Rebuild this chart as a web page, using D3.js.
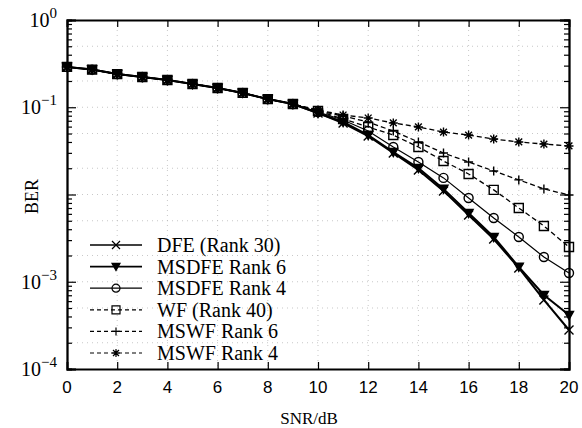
<!DOCTYPE html>
<html>
<head>
<meta charset="utf-8">
<script src="https://cdn.jsdelivr.net/npm/d3@7"></script>
<style>
  body { margin: 0; background: #fff; }
  .serif { font-family: "Liberation Serif", "Times New Roman", serif; }
  .sans { font-family: "Liberation Sans", Arial, sans-serif; }
</style>
</head>
<body>
<div id="chart"></div>
<script>
//=========Data=========//
var snr = [0, 1, 2, 3, 4, 5, 6, 7, 8, 9, 10, 11, 12, 13, 14, 15, 16, 17, 18, 19, 20];

var dfeRank30 = [0.29, 0.27, 0.24, 0.222, 0.205, 0.185, 0.166, 0.146, 0.124, 0.109,
  0.0859, 0.066, 0.0468, 0.0299, 0.0191, 0.011, 0.00582, 0.00309, 0.00144, 0.000618, 0.00028];
var msdfeRank6 = [0.29, 0.27, 0.24, 0.222, 0.205, 0.185, 0.166, 0.146, 0.124, 0.109,
  0.0859, 0.0677, 0.048, 0.0307, 0.0201, 0.0116, 0.00614, 0.00326, 0.00148, 0.000705, 0.000416];
var msdfeRank4 = [0.29, 0.27, 0.24, 0.222, 0.205, 0.185, 0.166, 0.146, 0.124, 0.109,
  0.0882, 0.0714, 0.0534, 0.035, 0.0236, 0.0155, 0.00912, 0.00538, 0.00326, 0.00192, 0.00126];
var wfRank40 = [0.29, 0.27, 0.24, 0.222, 0.205, 0.185, 0.166, 0.146, 0.124, 0.109,
  0.0906, 0.0733, 0.0594, 0.048, 0.035, 0.0242, 0.0172, 0.0113, 0.007, 0.00436, 0.0025];
var mswfRank6 = [0.29, 0.27, 0.24, 0.222, 0.205, 0.185, 0.166, 0.146, 0.124, 0.109,
  0.0906, 0.0794, 0.0677, 0.0534, 0.04, 0.0299, 0.0236, 0.0186, 0.0147, 0.0116, 0.00987];
var mswfRank4 = [0.29, 0.27, 0.24, 0.222, 0.205, 0.185, 0.166, 0.146, 0.124, 0.109,
  0.093, 0.0815, 0.0753, 0.066, 0.0594, 0.052, 0.048, 0.0433, 0.04, 0.0379, 0.036];

var seriesNames = ["DFE (Rank 30)", "MSDFE Rank 6", "MSDFE Rank 4", "WF (Rank 40)", "MSWF Rank 6", "MSWF Rank 4"];
var xTicks = [0, 2, 4, 6, 8, 10, 12, 14, 16, 18, 20];
var yDecades = [1e-4, 1e-3, 1e-2, 1e-1, 1];
// the 10^-2 label is hidden behind the BER title in the original
var yLabelled = [1e-4, 1e-3, 1e-1, 1];
var yExponents = ["\u22124", "\u22123", "\u22121", "0"];

//=========SVG area=========//
var svgWidth = 582;
var svgHeight = 428;
var margin = { top: 20, right: 13, bottom: 59, left: 67 };
var width = svgWidth - margin.left - margin.right;
var height = svgHeight - margin.top - margin.bottom;

var svg = d3.select("#chart").append("svg")
  .attr("width", svgWidth)
  .attr("height", svgHeight);

var chartGroup = svg.append("g")
  .attr("transform", `translate(${margin.left}, ${margin.top})`);

var x = d3.scaleLinear().domain([0, 20]).range([0, width]);
var y = d3.scaleLog().domain([1e-4, 1]).range([height, 0]);

// minor tick values for log axis
var yMinor = [];
[1e-4, 1e-3, 1e-2, 1e-1].forEach(function (d) {
  for (var k = 2; k <= 9; k++) yMinor.push(d * k);
});

//=========Grid (faint dotted)=========//
var grid = chartGroup.append("g").attr("stroke", "#b0b0b0").attr("stroke-width", 0.7)
  .attr("stroke-dasharray", "1,4");
grid.selectAll("line.gx").data(xTicks.slice(1, -1)).enter().append("line")
  .attr("x1", d => x(d)).attr("x2", d => x(d)).attr("y1", 0).attr("y2", height);
grid.selectAll("line.gy").data(yDecades.slice(1, -1).concat(yMinor.filter((d, i) => i % 8 === 0 || i % 8 === 3)))
  .enter().append("line")
  .attr("x1", 0).attr("x2", width).attr("y1", d => y(d)).attr("y2", d => y(d));

//=========Axes (ticks inward, boxed)=========//
chartGroup.append("g").attr("transform", `translate(0, ${height})`)
  .call(d3.axisBottom(x).tickValues(xTicks).tickSize(-7).tickFormat(""));
chartGroup.append("g")
  .call(d3.axisTop(x).tickValues(xTicks).tickSize(-7).tickFormat(""));
chartGroup.append("g")
  .call(d3.axisLeft(y).tickValues(yMinor).tickSize(-5).tickFormat(""));
chartGroup.append("g")
  .call(d3.axisLeft(y).tickValues(yDecades).tickSize(-9).tickFormat(""));
chartGroup.append("g").attr("transform", `translate(${width}, 0)`)
  .call(d3.axisRight(y).tickValues(yMinor).tickSize(-5).tickFormat(""));
chartGroup.append("g").attr("transform", `translate(${width}, 0)`)
  .call(d3.axisRight(y).tickValues(yDecades).tickSize(-9).tickFormat(""));
chartGroup.selectAll(".domain").attr("stroke-width", 1.8).attr("stroke", "#000");
chartGroup.selectAll(".tick line").attr("stroke", "#000").attr("stroke-width", 1.2);

// x tick labels
chartGroup.append("g").selectAll("text").data(xTicks).enter().append("text")
  .attr("class", "sans")
  .attr("x", d => x(d))
  .attr("y", height + 24)
  .attr("text-anchor", "middle")
  .attr("font-size", 17)
  .text(d => d);

// y tick labels 10^k
var yLab = chartGroup.append("g").selectAll("text").data(yLabelled).enter().append("text")
  .attr("class", "serif")
  .attr("x", -10)
  .attr("y", d => y(d) + 7)
  .attr("text-anchor", "end")
  .attr("font-size", 20);
yLab.append("tspan").text("10");
yLab.append("tspan").attr("dy", -9).attr("font-size", 15).text((d, i) => yExponents[i]);

// axis titles
svg.append("text")
  .attr("class", "serif")
  .attr("transform", `translate(38, ${margin.top + height / 2 + 2}) rotate(-90)`)
  .attr("text-anchor", "middle")
  .attr("font-size", 18)
  .text("BER");

svg.append("text")
  .attr("class", "serif")
  .attr("x", 309)
  .attr("y", 424)
  .attr("text-anchor", "middle")
  .attr("font-size", 17)
  .text("SNR/dB");

//=========Markers=========//
function markerPath(type, s) {
  var h = s / 2;
  if (type === "x") return `M${-h},${-h}L${h},${h}M${-h},${h}L${h},${-h}`;
  if (type === "plus") return `M${-h},0L${h},0M0,${-h}L0,${h}`;
  if (type === "star") {
    var a = h * 0.75;
    return `M${-h},0L${h},0M0,${-h}L0,${h}M${-a},${-a}L${a},${a}M${-a},${a}L${a},${-a}`;
  }
  if (type === "square") return `M${-h},${-h}H${h}V${h}H${-h}Z`;
  if (type === "tri") return `M${-h},${-h * 0.8}H${h}L0,${h}Z`;
  return d3.symbol().type(d3.symbolCircle).size(Math.PI * h * h)();
}

var series = [
  { name: seriesNames[0], values: dfeRank30, marker: "x", fill: "none", dash: null, lw: 2 },
  { name: seriesNames[1], values: msdfeRank6, marker: "tri", fill: "#000", dash: null, lw: 2 },
  { name: seriesNames[2], values: msdfeRank4, marker: "circle", fill: "none", dash: null, lw: 1.2 },
  { name: seriesNames[3], values: wfRank40, marker: "square", fill: "none", dash: "5,3", lw: 1.3 },
  { name: seriesNames[4], values: mswfRank6, marker: "plus", fill: "none", dash: "5,3", lw: 1.3 },
  { name: seriesNames[5], values: mswfRank4, marker: "star", fill: "none", dash: "5,3", lw: 1.3 }
];

var line = d3.line().x((d, i) => x(snr[i])).y(d => y(d));

// draw dashed family first, then solid on top
var order = [5, 4, 3, 2, 0, 1];
order.forEach(function (k) {
  var s = series[k];
  var g = chartGroup.append("g");
  g.append("path")
    .datum(s.values)
    .attr("d", line)
    .attr("fill", "none")
    .attr("stroke", "#000")
    .attr("stroke-width", s.lw)
    .attr("stroke-dasharray", s.dash);
  g.selectAll("path.mk").data(s.values).enter().append("path")
    .attr("class", "mk")
    .attr("transform", (d, i) => `translate(${x(snr[i])}, ${y(d)})`)
    .attr("d", markerPath(s.marker, 9))
    .attr("fill", s.fill)
    .attr("stroke", "#000")
    .attr("stroke-width", 1.4);
});

//=========Legend=========//
var legend = svg.append("g").attr("transform", "translate(90, 245)");
series.forEach(function (s, i) {
  var row = legend.append("g").attr("transform", `translate(0, ${i * 21.6})`);
  row.append("line")
    .attr("x1", 0).attr("x2", 52).attr("y1", 0).attr("y2", 0)
    .attr("stroke", "#000")
    .attr("stroke-width", s.lw > 1.5 ? 1.6 : 1.2)
    .attr("stroke-dasharray", s.dash ? "4,3" : null);
  row.append("path")
    .attr("transform", "translate(26, 0)")
    .attr("d", markerPath(s.marker, 8))
    .attr("fill", s.fill)
    .attr("stroke", "#000")
    .attr("stroke-width", 1.2);
  row.append("text")
    .attr("class", "serif")
    .attr("x", 67)
    .attr("y", 7)
    .attr("font-size", 20)
    .text(s.name);
});
</script>
</body>
</html>
